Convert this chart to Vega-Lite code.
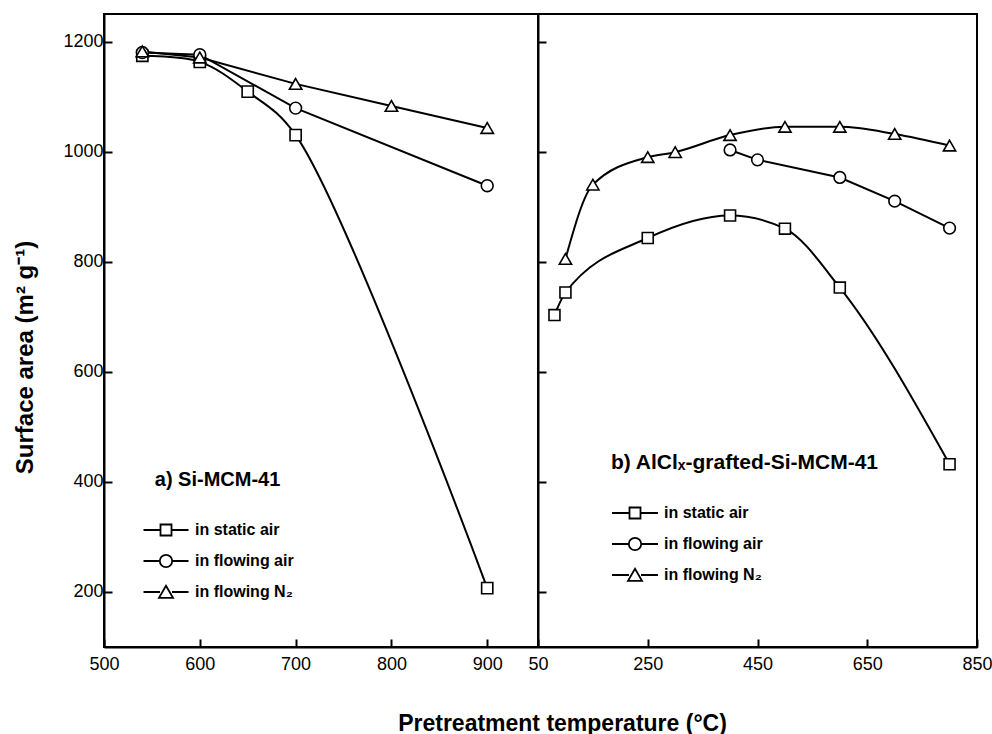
{
  "$schema": "https://vega.github.io/schema/vega-lite/v6.json",
  "padding": {"left": 12, "top": 13, "right": 5, "bottom": 5},
  "background": "white",
  "bounds": "flush",
  "spacing": 0,
  "config": {
    "font": "Liberation Sans",
    "view": {"stroke": "black", "strokeWidth": 2},
    "axis": {
      "grid": false,
      "domainColor": "black",
      "domainWidth": 2,
      "tickColor": "black",
      "tickWidth": 2,
      "tickSize": -8,
      "format": "d",
      "labelFlush": false,
      "labelOverlap": false,
      "labelFont": "Liberation Sans",
      "labelFontSize": 18,
      "labelColor": "black",
      "titleFont": "Liberation Sans",
      "titleColor": "black",
      "titleFontWeight": "bold"
    }
  },
  "data": {
    "values": [
      {"panel": "a", "series": "in static air", "T": 540, "S": 1174},
      {"panel": "a", "series": "in static air", "T": 600, "S": 1163},
      {"panel": "a", "series": "in static air", "T": 650, "S": 1109},
      {"panel": "a", "series": "in static air", "T": 700, "S": 1030},
      {"panel": "a", "series": "in static air", "T": 900, "S": 207},
      {"panel": "a", "series": "in flowing air", "T": 540, "S": 1180},
      {"panel": "a", "series": "in flowing air", "T": 600, "S": 1176},
      {"panel": "a", "series": "in flowing air", "T": 700, "S": 1079},
      {"panel": "a", "series": "in flowing air", "T": 900, "S": 938},
      {"panel": "a", "series": "in flowing N₂", "T": 540, "S": 1182},
      {"panel": "a", "series": "in flowing N₂", "T": 600, "S": 1171},
      {"panel": "a", "series": "in flowing N₂", "T": 700, "S": 1123},
      {"panel": "a", "series": "in flowing N₂", "T": 800, "S": 1083},
      {"panel": "a", "series": "in flowing N₂", "T": 900, "S": 1043},
      {"panel": "b", "series": "in static air", "T": 80, "S": 703},
      {"panel": "b", "series": "in static air", "T": 100, "S": 744},
      {"panel": "b", "series": "in static air", "T": 250, "S": 843},
      {"panel": "b", "series": "in static air", "T": 400, "S": 884},
      {"panel": "b", "series": "in static air", "T": 500, "S": 860},
      {"panel": "b", "series": "in static air", "T": 600, "S": 753},
      {"panel": "b", "series": "in static air", "T": 800, "S": 432},
      {"panel": "b", "series": "in flowing air", "T": 400, "S": 1003},
      {"panel": "b", "series": "in flowing air", "T": 450, "S": 985},
      {"panel": "b", "series": "in flowing air", "T": 600, "S": 953},
      {"panel": "b", "series": "in flowing air", "T": 700, "S": 910},
      {"panel": "b", "series": "in flowing air", "T": 800, "S": 861},
      {"panel": "b", "series": "in flowing N₂", "T": 100, "S": 805},
      {"panel": "b", "series": "in flowing N₂", "T": 150, "S": 940},
      {"panel": "b", "series": "in flowing N₂", "T": 250, "S": 990},
      {"panel": "b", "series": "in flowing N₂", "T": 300, "S": 999},
      {"panel": "b", "series": "in flowing N₂", "T": 400, "S": 1030},
      {"panel": "b", "series": "in flowing N₂", "T": 500, "S": 1045},
      {"panel": "b", "series": "in flowing N₂", "T": 600, "S": 1045},
      {"panel": "b", "series": "in flowing N₂", "T": 700, "S": 1032},
      {"panel": "b", "series": "in flowing N₂", "T": 800, "S": 1011}
    ]
  },
  "hconcat": [
    {
      "width": 434,
      "height": 633,
      "layer": [
        {
          "encoding": {
            "x": {
              "field": "T", "type": "quantitative",
              "scale": {"domain": [500, 953], "nice": false, "zero": false},
              "axis": {
                "values": [500, 600, 700, 800, 900],
                "labelPadding": 16,
                "title": "Pretreatment temperature (°C)",
                "titleFontSize": 23,
                "titleX": 458,
                "titleY": 83,
                "titleAlign": "center",
                "titleBaseline": "alphabetic"
              }
            },
            "y": {
              "field": "S", "type": "quantitative",
              "scale": {"domain": [100, 1250], "nice": false, "zero": false},
              "axis": {
                "values": [200, 400, 600, 800, 1000, 1200],
                "labelPadding": 9,
                "title": "Surface area (m² g⁻¹)",
                "titleFontSize": 24,
                "titleAngle": -90,
                "titleX": -79,
                "titleY": 343,
                "titleAlign": "center",
                "titleBaseline": "middle"
              }
            }
          },
          "layer": [
            {
              "transform": [{"filter": "datum.panel == 'a' && datum.series == 'in static air'"}],
              "mark": {"type": "line", "interpolate": "catmull-rom", "color": "black", "strokeWidth": 2}
            },
            {
              "transform": [{"filter": "datum.panel == 'a' && datum.series != 'in static air'"}],
              "mark": {"type": "line", "interpolate": "linear", "color": "black", "strokeWidth": 2},
              "encoding": {"detail": {"field": "series", "type": "nominal"}}
            },
            {
              "transform": [{"filter": "datum.panel == 'a'"}],
              "mark": {"type": "point", "filled": true, "fill": "white", "stroke": "black", "strokeWidth": 1.6, "opacity": 1},
              "encoding": {
                "shape": {"field": "series", "type": "nominal",
                  "scale": {"domain": ["in static air", "in flowing air", "in flowing N₂"], "range": ["square", "circle", "triangle-up"]},
                  "legend": null},
                "size": {"field": "series", "type": "ordinal",
                  "scale": {"domain": ["in static air", "in flowing air", "in flowing N₂"], "range": [125, 155, 190]},
                  "legend": null}
              }
            },
            {
              "transform": [{"filter": "false"}],
              "mark": {"type": "point", "filled": false, "color": "black", "strokeWidth": 1.8, "opacity": 1},
              "encoding": {
                "shape": {"field": "series", "type": "nominal",
                  "scale": {"domain": ["in static air", "in flowing air", "in flowing N₂"],
                    "range": [
                      "M-2.25,0H-0.55M0.55,0H2.25M-0.55,-0.55H0.55V0.55H-0.55Z",
                      "M-2.25,0H-0.62M0.62,0H2.25M-0.62,0A0.62,0.62 0 1,0 0.62,0A0.62,0.62 0 1,0 -0.62,0Z",
                      "M-2.25,0H-0.6M0.6,0H2.25M0,-0.62L0.7,0.58L-0.7,0.58Z"
                    ]},
                  "legend": {
                    "orient": "none", "legendX": 51, "legendY": 505, "title": null,
                    "padding": 0, "symbolSize": 400, "rowPadding": 10, "labelOffset": 18,
                    "symbolStrokeColor": "black", "symbolStrokeWidth": 1.8,
                    "labelFont": "Liberation Sans", "labelFontSize": 16, "labelFontWeight": "bold", "labelColor": "black"
                  }
                }
              }
            }
          ],
          "resolve": {"scale": {"shape": "independent", "size": "independent"}, "legend": {"shape": "independent"}}
        },
        {
          "data": {"values": [{"label": "a) Si-MCM-41"}]},
          "mark": {"type": "text", "align": "left", "baseline": "alphabetic", "fontSize": 20, "fontWeight": "bold", "font": "Liberation Sans", "color": "black"},
          "encoding": {
            "x": {"datum": 553, "type": "quantitative"},
            "y": {"datum": 393, "type": "quantitative"},
            "text": {"field": "label"}
          }
        }
      ]
    },
    {
      "width": 439,
      "height": 633,
      "layer": [
        {
          "encoding": {
            "x": {
              "field": "T", "type": "quantitative",
              "scale": {"domain": [50, 850], "nice": false, "zero": false},
              "axis": {"values": [50, 250, 450, 650, 850], "labelPadding": 16, "title": null}
            },
            "y": {
              "field": "S", "type": "quantitative",
              "scale": {"domain": [100, 1250], "nice": false, "zero": false},
              "axis": {"values": [200, 400, 600, 800, 1000, 1200], "labels": false, "title": null}
            }
          },
          "layer": [
            {
              "transform": [{"filter": "datum.panel == 'b' && datum.series != 'in flowing air'"}],
              "mark": {"type": "line", "interpolate": "monotone", "color": "black", "strokeWidth": 2},
              "encoding": {"detail": {"field": "series", "type": "nominal"}}
            },
            {
              "transform": [{"filter": "datum.panel == 'b' && datum.series == 'in flowing air'"}],
              "mark": {"type": "line", "interpolate": "linear", "color": "black", "strokeWidth": 2}
            },
            {
              "transform": [{"filter": "datum.panel == 'b'"}],
              "mark": {"type": "point", "filled": true, "fill": "white", "stroke": "black", "strokeWidth": 1.6, "opacity": 1},
              "encoding": {
                "shape": {"field": "series", "type": "nominal",
                  "scale": {"domain": ["in static air", "in flowing air", "in flowing N₂"], "range": ["square", "circle", "triangle-up"]},
                  "legend": null},
                "size": {"field": "series", "type": "ordinal",
                  "scale": {"domain": ["in static air", "in flowing air", "in flowing N₂"], "range": [120, 150, 190]},
                  "legend": null}
              }
            },
            {
              "transform": [{"filter": "false"}],
              "mark": {"type": "point", "filled": false, "color": "black", "strokeWidth": 1.8, "opacity": 1},
              "encoding": {
                "shape": {"field": "series", "type": "nominal",
                  "scale": {"domain": ["in static air", "in flowing air", "in flowing N₂"],
                    "range": [
                      "M-2.3,0H-0.55M0.55,0H2.3M-0.55,-0.55H0.55V0.55H-0.55Z",
                      "M-2.3,0H-0.62M0.62,0H2.3M-0.62,0A0.62,0.62 0 1,0 0.62,0A0.62,0.62 0 1,0 -0.62,0Z",
                      "M-2.3,0H-0.6M0.6,0H2.3M0,-0.62L0.7,0.58L-0.7,0.58Z"
                    ]},
                  "legend": {
                    "orient": "none", "legendX": 86, "legendY": 488, "title": null,
                    "padding": 0, "symbolSize": 400, "rowPadding": 10, "labelOffset": 18,
                    "symbolStrokeColor": "black", "symbolStrokeWidth": 1.8,
                    "labelFont": "Liberation Sans", "labelFontSize": 16, "labelFontWeight": "bold", "labelColor": "black"
                  }
                }
              }
            }
          ],
          "resolve": {"scale": {"shape": "independent", "size": "independent"}, "legend": {"shape": "independent"}}
        },
        {
          "data": {"values": [{"label": "b) AlClₓ-grafted-Si-MCM-41"}]},
          "mark": {"type": "text", "align": "left", "baseline": "alphabetic", "fontSize": 21, "fontWeight": "bold", "font": "Liberation Sans", "color": "black"},
          "encoding": {
            "x": {"datum": 183, "type": "quantitative"},
            "y": {"datum": 423, "type": "quantitative"},
            "text": {"field": "label"}
          }
        }
      ]
    }
  ]
}
